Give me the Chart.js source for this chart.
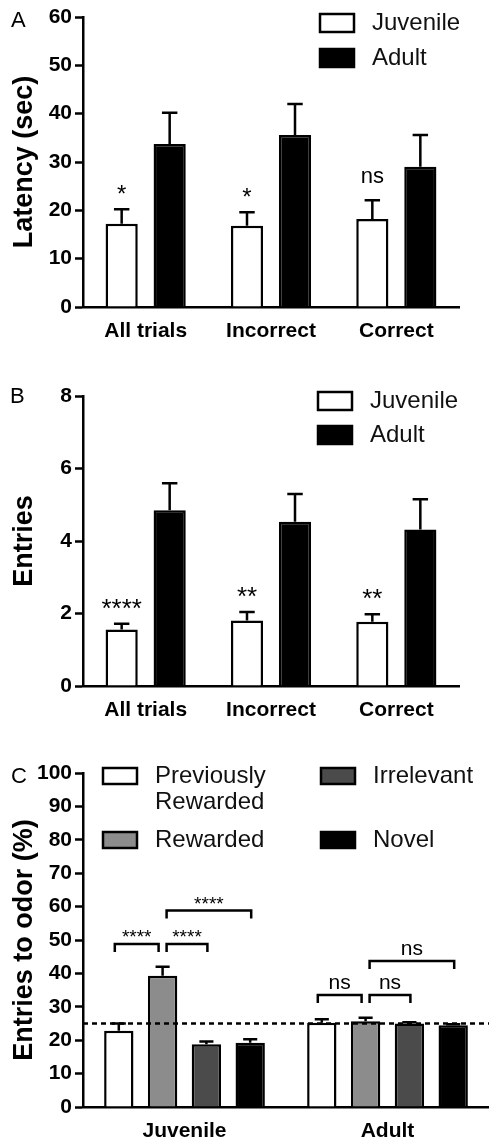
<!DOCTYPE html>
<html>
<head>
<meta charset="utf-8">
<script src="https://cdn.jsdelivr.net/npm/chart.js@4.4.1/dist/chart.umd.min.js"></script>
<style>
  html, body { margin: 0; padding: 0; background: #fff; }
  body { width: 489px; height: 1142px; position: relative; overflow: hidden; }
  canvas { position: absolute; left: 0; }
</style>
</head>
<body>
<canvas id="chart-a" width="489" height="345" style="top:0"></canvas>
<canvas id="chart-b" width="489" height="380" style="top:345px"></canvas>
<canvas id="chart-c" width="489" height="417" style="top:725px"></canvas>
<script>
// panel A: latency
const trialTypes = ["All trials", "Incorrect", "Correct"];
const juvLatency = [17.2, 16.8, 18.2];
const juvLatencySem = [3.0, 2.8, 3.9];
const adultLatency = [33.7, 35.6, 29.0];
const adultLatencySem = [6.5, 6.4, 6.6];
const latencyTicks = [0, 10, 20, 30, 40, 50, 60];
const latencySig = ["*", "*", "ns"];

// panel B: entries
const juvEntries = [1.56, 1.81, 1.77];
const juvEntriesSem = [0.16, 0.23, 0.21];
const adultEntries = [4.85, 4.53, 4.32];
const adultEntriesSem = [0.74, 0.77, 0.83];
const entriesTicks = [0, 2, 4, 6, 8];
const entriesSig = ["****", "**", "**"];

// panel C: entries to odor (%)
const ageGroups = ["Juvenile", "Adult"];
const prevRewarded = [22.8, 25.2];
const prevRewardedSem = [2.2, 1.1];
const rewarded = [39.3, 25.7];
const rewardedSem = [2.7, 1.0];
const irrelevant = [18.8, 25.0];
const irrelevantSem = [0.8, 0.4];
const novel = [19.2, 24.5];
const novelSem = [1.1, 0.3];
const odorTicks = [0, 10, 20, 30, 40, 50, 60, 70, 80, 90, 100];
const chanceLevel = 25;
// [group, from series, to series, bracket height, label]
const odorBrackets = [
  [0, 0, 1, 48.8, "****"],
  [0, 1, 2, 48.8, "****"],
  [0, 1, 3, 58.8, "****"],
  [1, 0, 1, 33.5, "ns"],
  [1, 1, 2, 33.5, "ns"],
  [1, 1, 3, 43.7, "ns"],
];

const FONT = "'Liberation Sans', Arial, Helvetica, sans-serif";
const INK = "#000";

const errorBars = {
  id: "errorBars",
  afterDatasetsDraw(chart) {
    const { ctx } = chart;
    const y = chart.scales.y;
    ctx.save();
    ctx.strokeStyle = INK;
    ctx.lineWidth = 2.5;
    chart.data.datasets.forEach((ds, i) => {
      chart.getDatasetMeta(i).data.forEach((bar, j) => {
        const top = y.getPixelForValue(ds.data[j] + ds.sem[j]);
        const half = bar.width * 0.24;
        ctx.beginPath();
        ctx.moveTo(bar.x, bar.y);
        ctx.lineTo(bar.x, top);
        ctx.moveTo(bar.x - half, top);
        ctx.lineTo(bar.x + half, top);
        ctx.stroke();
      });
    });
    ctx.restore();
  },
};

const decorations = {
  id: "decorations",
  afterDraw(chart, args, opts) {
    const { ctx, chartArea } = chart;
    const y = chart.scales.y;
    ctx.save();
    ctx.fillStyle = INK;

    // panel letter
    ctx.font = `22px ${FONT}`;
    ctx.textBaseline = "middle";
    ctx.textAlign = "left";
    ctx.fillText(opts.letter, opts.letterX, opts.letterY);

    // legend
    const lg = opts.legend;
    lg.items.forEach((item) => {
      const ds = chart.data.datasets[item.ds];
      const bx = lg.cols[item.col];
      const by = lg.rows[item.row];
      ctx.fillStyle = ds.backgroundColor;
      ctx.fillRect(bx, by, lg.boxW, lg.boxH);
      ctx.strokeStyle = INK;
      ctx.lineWidth = 2.5;
      ctx.strokeRect(bx, by, lg.boxW, lg.boxH);
      ctx.fillStyle = "#111";
      ctx.font = `24px ${FONT}`;
      ctx.textBaseline = "middle";
      item.text.forEach((line, k) => {
        ctx.fillText(line, bx + 52, by + lg.boxH / 2 + k * 26.7);
      });
    });

    // significance marks above the first series
    if (opts.sig) {
      const meta = chart.getDatasetMeta(0);
      const ds = chart.data.datasets[0];
      ctx.fillStyle = INK;
      ctx.textAlign = "center";
      ctx.textBaseline = "alphabetic";
      opts.sig.forEach((label, j) => {
        const bar = meta.data[j];
        const top = y.getPixelForValue(ds.data[j] + ds.sem[j]);
        ctx.font = label === "ns" ? `22px ${FONT}` : `${opts.sigSize}px ${FONT}`;
        ctx.fillText(label, bar.x, top - (label === "ns" ? 17 : 7));
      });
    }

    // chance line
    if (opts.chance !== undefined) {
      const py = y.getPixelForValue(opts.chance);
      ctx.strokeStyle = INK;
      ctx.lineWidth = 2.5;
      ctx.setLineDash([5, 4]);
      ctx.beginPath();
      ctx.moveTo(chartArea.left, py);
      ctx.lineTo(chartArea.right, py);
      ctx.stroke();
      ctx.setLineDash([]);
    }

    // comparison brackets
    if (opts.brackets) {
      ctx.strokeStyle = INK;
      ctx.lineWidth = 2.5;
      ctx.textAlign = "center";
      ctx.textBaseline = "alphabetic";
      opts.brackets.forEach(([g, a, b, h, label]) => {
        const xa = chart.getDatasetMeta(a).data[g].x + (a === 1 ? 4 : -4);
        const xb = chart.getDatasetMeta(b).data[g].x + (b === 1 ? -4 : 1);
        const py = y.getPixelForValue(h);
        ctx.beginPath();
        ctx.moveTo(xa, py + 8);
        ctx.lineTo(xa, py);
        ctx.lineTo(xb, py);
        ctx.lineTo(xb, py + 8);
        ctx.stroke();
        ctx.fillStyle = INK;
        ctx.font = label === "ns" ? `21px ${FONT}` : `19px ${FONT}`;
        ctx.fillText(label, (xa + xb) / 2, py - (label === "ns" ? 6 : 1));
      });
    }
    ctx.restore();
  },
};

function barChart(id, cfg) {
  const canvas = document.getElementById(id);
  const H = canvas.height;
  return new Chart(canvas, {
    type: "bar",
    data: {
      labels: cfg.labels,
      datasets: cfg.series.map((s) => ({
        label: s.label,
        data: s.data,
        sem: s.sem,
        backgroundColor: s.color,
        borderColor: INK,
        borderWidth: 2.5,
        borderSkipped: "start",
        categoryPercentage: cfg.catPct,
        barPercentage: cfg.barPct,
      })),
    },
    options: {
      responsive: false,
      animation: false,
      events: [],
      layout: { padding: { top: cfg.top, right: cfg.right, left: 0, bottom: 0 } },
      plugins: {
        legend: { display: false },
        tooltip: { enabled: false },
        decorations: cfg.deco,
      },
      scales: {
        x: {
          grid: { display: false },
          border: { display: true, color: INK, width: 2.5 },
          ticks: { color: INK, padding: 4, font: { family: FONT, size: 21, weight: "bold" } },
          afterFit: (scale) => { scale.height = H - cfg.bottom; },
        },
        y: {
          min: cfg.ticks[0],
          max: cfg.ticks[cfg.ticks.length - 1],
          afterBuildTicks: (scale) => { scale.ticks = cfg.ticks.map((v) => ({ value: v })); },
          grid: { display: true, drawOnChartArea: false, drawTicks: true, tickLength: 8, tickWidth: 2.5, tickColor: INK, color: INK },
          border: { display: true, color: INK, width: 2.5 },
          ticks: { color: INK, padding: 3, font: { family: FONT, size: 21, weight: "bold" } },
          title: {
            display: true,
            text: cfg.yTitle,
            color: INK,
            padding: { top: 8, bottom: 0 },
            font: { family: FONT, size: 27, weight: "bold" },
          },
          afterFit: (scale) => { scale.width = 83; },
        },
      },
    },
    plugins: [errorBars, decorations],
  });
}

barChart("chart-a", {
  labels: trialTypes,
  series: [
    { label: "Juvenile", data: juvLatency, sem: juvLatencySem, color: "#fff" },
    { label: "Adult", data: adultLatency, sem: adultLatencySem, color: "#000" },
  ],
  ticks: latencyTicks,
  yTitle: "Latency (sec)",
  top: 17, bottom: 307, right: 30,
  catPct: 0.766, barPct: 0.67,
  deco: {
    letter: "A", letterX: 11, letterY: 21,
    sig: latencySig, sigSize: 24,
    legend: {
      boxW: 34, boxH: 18, cols: [320], rows: [14, 49],
      items: [
        { ds: 0, col: 0, row: 0, text: ["Juvenile"] },
        { ds: 1, col: 0, row: 1, text: ["Adult"] },
      ],
    },
  },
});

barChart("chart-b", {
  labels: trialTypes,
  series: [
    { label: "Juvenile", data: juvEntries, sem: juvEntriesSem, color: "#fff" },
    { label: "Adult", data: adultEntries, sem: adultEntriesSem, color: "#000" },
  ],
  ticks: entriesTicks,
  yTitle: "Entries",
  top: 51, bottom: 341, right: 30,
  catPct: 0.766, barPct: 0.67,
  deco: {
    letter: "B", letterX: 10, letterY: 52,
    sig: entriesSig, sigSize: 26,
    legend: {
      boxW: 34, boxH: 18, cols: [318], rows: [47, 81],
      items: [
        { ds: 0, col: 0, row: 0, text: ["Juvenile"] },
        { ds: 1, col: 0, row: 1, text: ["Adult"] },
      ],
    },
  },
});

barChart("chart-c", {
  labels: ageGroups,
  series: [
    { label: "Previously Rewarded", data: prevRewarded, sem: prevRewardedSem, color: "#fff" },
    { label: "Rewarded", data: rewarded, sem: rewardedSem, color: "#8c8c8c" },
    { label: "Irrelevant", data: irrelevant, sem: irrelevantSem, color: "#4b4b4b" },
    { label: "Novel", data: novel, sem: novelSem, color: "#000" },
  ],
  ticks: odorTicks,
  yTitle: "Entries to odor (%)",
  top: 48, bottom: 382, right: 0,
  catPct: 0.863, barPct: 0.67,
  deco: {
    letter: "C", letterX: 11, letterY: 52,
    chance: chanceLevel,
    brackets: odorBrackets,
    legend: {
      boxW: 34, boxH: 16, cols: [103, 321], rows: [43, 107],
      items: [
        { ds: 0, col: 0, row: 0, text: ["Previously", "Rewarded"] },
        { ds: 1, col: 0, row: 1, text: ["Rewarded"] },
        { ds: 2, col: 1, row: 0, text: ["Irrelevant"] },
        { ds: 3, col: 1, row: 1, text: ["Novel"] },
      ],
    },
  },
});
</script>
</body>
</html>
